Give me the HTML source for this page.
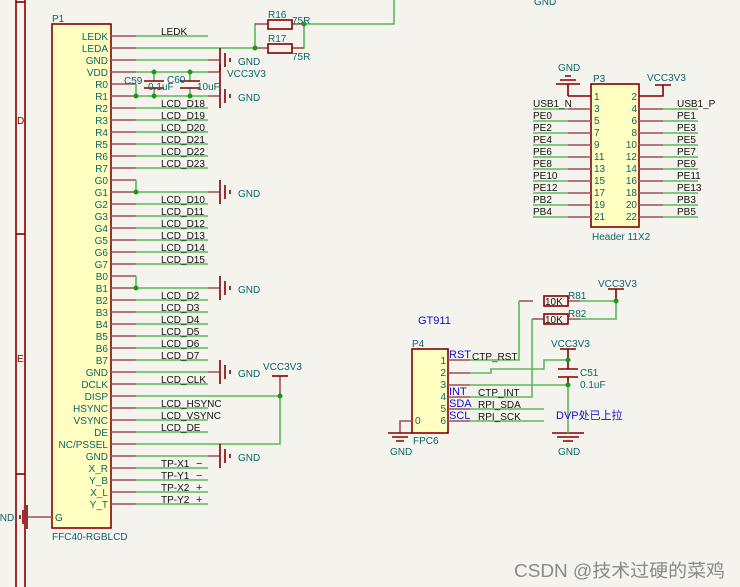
<!DOCTYPE html>
<html><head><meta charset="utf-8"><style>
html,body{margin:0;padding:0;background:#f4f3ee;}
svg{display:block;font-family:"Liberation Sans","Noto Sans CJK SC",sans-serif;}
.t{fill:#0b6565;font-size:10px;}
.k{fill:#111;font-size:10px;}
.b{fill:#1010c8;font-size:11px;}
.r{stroke:#a05050;stroke-width:1.6;fill:none;}
.R{stroke:#840000;stroke-width:1.6;fill:none;}
.g{stroke:#5cb85c;stroke-width:1.6;fill:none;}
.d{fill:#1a9a1a;}
</style></head><body>
<svg width="740" height="587" viewBox="0 0 740 587">
<rect width="740" height="587" fill="#f4f3ee"/>
<g class="R" stroke-width="1.2">
<line x1="16" y1="0" x2="16" y2="587"/><line x1="25" y1="0" x2="25" y2="587"/>
<line x1="16" y1="2" x2="25" y2="2"/><line x1="16" y1="234" x2="25" y2="234"/><line x1="16" y1="474" x2="25" y2="474"/>
</g>
<text x="17" y="124" fill="#840000" font-size="10">D</text>
<text x="17" y="362" fill="#840000" font-size="10">E</text>
<rect x="52" y="24" width="59" height="504" fill="#ffffc2" stroke="#840000" stroke-width="1.6"/>
<text class="t" x="52" y="22">P1</text>
<text class="t" x="52" y="540">FFC40-RGBLCD</text>
<g class="r">
<path d="M111 36H136M111 48H136M111 60H136M111 72H136M111 84H136M111 96H136M111 108H136M111 120H136M111 132H136M111 144H136M111 156H136M111 168H136M111 180H136M111 192H136M111 204H136M111 216H136M111 228H136M111 240H136M111 252H136M111 264H136M111 276H136M111 288H136M111 300H136M111 312H136M111 324H136M111 336H136M111 348H136M111 360H136M111 372H136M111 384H136M111 396H136M111 408H136M111 420H136M111 432H136M111 444H136M111 456H136M111 468H136M111 480H136M111 492H136M111 504H136M28 517H52"/>
</g>
<g class="t" text-anchor="end">
<text x="108" y="40">LEDK</text><text x="108" y="52">LEDA</text><text x="108" y="64">GND</text><text x="108" y="76">VDD</text>
<text x="108" y="88">R0</text><text x="108" y="100">R1</text><text x="108" y="112">R2</text><text x="108" y="124">R3</text><text x="108" y="136">R4</text><text x="108" y="148">R5</text><text x="108" y="160">R6</text><text x="108" y="172">R7</text>
<text x="108" y="184">G0</text><text x="108" y="196">G1</text><text x="108" y="208">G2</text><text x="108" y="220">G3</text><text x="108" y="232">G4</text><text x="108" y="244">G5</text><text x="108" y="256">G6</text><text x="108" y="268">G7</text>
<text x="108" y="280">B0</text><text x="108" y="292">B1</text><text x="108" y="304">B2</text><text x="108" y="316">B3</text><text x="108" y="328">B4</text><text x="108" y="340">B5</text><text x="108" y="352">B6</text><text x="108" y="364">B7</text>
<text x="108" y="376">GND</text><text x="108" y="388">DCLK</text><text x="108" y="400">DISP</text><text x="108" y="412">HSYNC</text><text x="108" y="424">VSYNC</text><text x="108" y="436">DE</text><text x="108" y="448">NC/PSSEL</text><text x="108" y="460">GND</text>
<text x="108" y="472">X_R</text><text x="108" y="484">Y_B</text><text x="108" y="496">X_L</text><text x="108" y="508">Y_T</text>
</g>
<text class="t" x="55" y="521">G</text>
<g class="g">
<path d="M136 36H208M136 48H255M136 60H208M136 72H208M136 84V96H208"/>
<path d="M136 108H208M136 120H208M136 132H208M136 144H208M136 156H208M136 168H208"/>
<path d="M136 180V192H208M136 204H208M136 216H208M136 228H208M136 240H208M136 252H208M136 264H208"/>
<path d="M136 276V288H208M136 300H208M136 312H208M136 324H208M136 336H208M136 348H208M136 360H208"/>
<path d="M136 372H208M136 384H208M136 396H280M136 408H208M136 420H208M136 432H208M136 444H280V396M136 456H208M136 468H208M136 480H208M136 492H208M136 504H208"/>
<path d="M154 72V81M190 72V81M154 88V96M190 88V96"/>
<path d="M255 48V24H256M255 48H256M304 24V48H292M304 24H394V0"/>
</g>
<g class="r"><path d="M255 24H268M255 48H268M292 24H304M292 48H304M280 376V396"/>
<path d="M208 60H219M208 72H219M208 96H219M208 192H219M208 288H219M208 372H219M208 456H219"/></g>
<rect x="268" y="20" width="24" height="9" fill="none" stroke="#840000" stroke-width="1.6"/>
<rect x="268" y="44" width="24" height="9" fill="none" stroke="#840000" stroke-width="1.6"/>
<text class="t" x="268" y="18">R16</text><text class="t" x="292" y="24">75R</text>
<text class="t" x="268" y="42">R17</text><text class="t" x="292" y="60">75R</text>
<g class="R"><path d="M144 81H164M144 88H164M180 81H200M180 88H200"/></g>
<text class="t" x="124" y="84">C59</text><text class="t" x="148" y="90">0.1uF</text>
<text class="t" x="167" y="83">C60</text><text class="t" x="197" y="90">10uF</text>
<g class="R">
<path d="M220 48V72M225 53V67M230 58V62"/>
<path d="M220 64V84"/>
<path d="M220 84V108M225 89V103M230 94V98"/>
<path d="M220 180V204M225 185V199M230 190V194"/>
<path d="M220 276V300M225 281V295M230 286V290"/>
<path d="M220 360V384M225 365V379M230 370V374"/>
<path d="M220 444V468M225 449V463M230 454V458"/>
<path d="M27 505V529M23 510V524M20 515V519"/>
<path d="M272 376H288"/>
</g>
<g class="t"><text x="238" y="65">GND</text><text x="227" y="77">VCC3V3</text><text x="238" y="101">GND</text><text x="238" y="197">GND</text><text x="238" y="293">GND</text><text x="238" y="377">GND</text><text x="238" y="461">GND</text><text x="263" y="370">VCC3V3</text><text x="-8" y="521">GND</text></g>
<g class="k">
<text x="161" y="35">LEDK</text>
<text x="161" y="107">LCD_D18</text><text x="161" y="119">LCD_D19</text><text x="161" y="131">LCD_D20</text><text x="161" y="143">LCD_D21</text><text x="161" y="155">LCD_D22</text><text x="161" y="167">LCD_D23</text>
<text x="161" y="203">LCD_D10</text><text x="161" y="215">LCD_D11</text><text x="161" y="227">LCD_D12</text><text x="161" y="239">LCD_D13</text><text x="161" y="251">LCD_D14</text><text x="161" y="263">LCD_D15</text>
<text x="161" y="299">LCD_D2</text><text x="161" y="311">LCD_D3</text><text x="161" y="323">LCD_D4</text><text x="161" y="335">LCD_D5</text><text x="161" y="347">LCD_D6</text><text x="161" y="359">LCD_D7</text>
<text x="161" y="383">LCD_CLK</text><text x="161" y="407">LCD_HSYNC</text><text x="161" y="419">LCD_VSYNC</text><text x="161" y="431">LCD_DE</text>
<text x="161" y="467">TP-X1</text><text x="161" y="479">TP-Y1</text><text x="161" y="491">TP-X2</text><text x="161" y="503">TP-Y2</text>
</g>
<g class="b"><text x="196" y="467">−</text><text x="196" y="479">−</text><text x="196" y="503">+</text><text x="196" y="491">+</text></g>
<g class="d"><circle cx="255" cy="48" r="2.5"/><circle cx="304" cy="24" r="2.5"/><circle cx="154" cy="72" r="2.5"/><circle cx="190" cy="72" r="2.5"/><circle cx="136" cy="96" r="2.5"/><circle cx="154" cy="96" r="2.5"/><circle cx="190" cy="96" r="2.5"/><circle cx="136" cy="192" r="2.5"/><circle cx="136" cy="288" r="2.5"/><circle cx="280" cy="396" r="2.5"/></g>
<text class="t" x="534" y="5">GND</text>

<rect x="591" y="84" width="48" height="143" fill="#ffffc2" stroke="#840000" stroke-width="1.6"/>
<text class="t" x="593" y="82">P3</text>
<text class="t" x="592" y="240">Header 11X2</text>
<g class="R"><path d="M568 96H591M568 96V84M556 84H580M560 80H576M565 76H571M639 96H663V85M655 85H671"/></g>
<text class="t" x="558" y="71">GND</text><text class="t" x="647" y="81">VCC3V3</text>
<g class="r"><path d="M568 109H591M568 121H591M568 133H591M568 145H591M568 157H591M568 169H591M568 181H591M568 193H591M568 205H591M568 217H591M639 109H663M639 121H663M639 133H663M639 145H663M639 157H663M639 169H663M639 181H663M639 193H663M639 205H663M639 217H663"/></g>
<g class="g"><path d="M533 109H568M533 121H568M533 133H568M533 145H568M533 157H568M533 169H568M533 181H568M533 193H568M533 205H568M533 217H568M663 109H698M663 121H698M663 133H698M663 145H698M663 157H698M663 169H698M663 181H698M663 193H698M663 205H698M663 217H698"/></g>
<g class="t">
<text x="594" y="100">1</text><text x="594" y="112">3</text><text x="594" y="124">5</text><text x="594" y="136">7</text><text x="594" y="148">9</text><text x="594" y="160">11</text><text x="594" y="172">13</text><text x="594" y="184">15</text><text x="594" y="196">17</text><text x="594" y="208">19</text><text x="594" y="220">21</text>
<g text-anchor="end"><text x="637" y="100">2</text><text x="637" y="112">4</text><text x="637" y="124">6</text><text x="637" y="136">8</text><text x="637" y="148">10</text><text x="637" y="160">12</text><text x="637" y="172">14</text><text x="637" y="184">16</text><text x="637" y="196">18</text><text x="637" y="208">20</text><text x="637" y="220">22</text></g>
</g>
<g class="k">
<text x="533" y="107">USB1_N</text><text x="533" y="119">PE0</text><text x="533" y="131">PE2</text><text x="533" y="143">PE4</text><text x="533" y="155">PE6</text><text x="533" y="167">PE8</text><text x="533" y="179">PE10</text><text x="533" y="191">PE12</text><text x="533" y="203">PB2</text><text x="533" y="215">PB4</text>
<text x="677" y="107">USB1_P</text><text x="677" y="119">PE1</text><text x="677" y="131">PE3</text><text x="677" y="143">PE5</text><text x="677" y="155">PE7</text><text x="677" y="167">PE9</text><text x="677" y="179">PE11</text><text x="677" y="191">PE13</text><text x="677" y="203">PB3</text><text x="677" y="215">PB5</text>
</g>

<text class="b" x="418" y="324">GT911</text>
<rect x="412" y="349" width="36" height="84" fill="#ffffc2" stroke="#840000" stroke-width="1.6"/>
<text class="t" x="412" y="347">P4</text><text class="t" x="413" y="444">FPC6</text>
<g class="r"><path d="M448 360H470M448 373H470M448 385H470M448 397H470M448 409H470M448 421H470M412 421H400V433M519 301H533M568 301H580M532 319H544M568 319H580"/></g>
<g class="R"><path d="M388 433H412M392 437H408M396 441H404M552 433H584M557 437H579M563 441H573M568 349V360M560 349H576M558 369H578M558 377H578M568 369V360M568 377V385M616 289V301M608 289H624"/></g>
<g class="g"><path d="M470 360H519V301M470 373H491V369H544V360H568M470 385H568V433M470 397H532V319M470 409H544M470 421H544M580 301H616V319H580"/></g>
<rect x="544" y="296" width="24" height="10" fill="none" stroke="#840000" stroke-width="1.6"/>
<rect x="544" y="314" width="24" height="10" fill="none" stroke="#840000" stroke-width="1.6"/>
<text class="k" x="545" y="305">10K</text><text class="k" x="545" y="323">10K</text>
<text class="t" x="568" y="299">R81</text><text class="t" x="568" y="317">R82</text>
<text class="t" x="598" y="287">VCC3V3</text><text class="t" x="551" y="347">VCC3V3</text>
<text class="t" x="580" y="376">C51</text><text class="t" x="580" y="388">0.1uF</text>
<text class="t" x="390" y="455">GND</text><text class="t" x="558" y="455">GND</text>
<g class="t" text-anchor="end"><text x="446" y="364">1</text><text x="446" y="376">2</text><text x="446" y="388">3</text><text x="446" y="400">4</text><text x="446" y="412">5</text><text x="446" y="424">6</text></g>
<text class="t" x="415" y="424">0</text>
<g class="b"><text x="449" y="358">RST</text><text x="449" y="395">INT</text><text x="449" y="407">SDA</text><text x="449" y="419">SCL</text></g>
<g class="k" font-size="9"><text x="472" y="360">CTP_RST</text><text x="478" y="396">CTP_INT</text><text x="478" y="408">RPI_SDA</text><text x="478" y="420">RPI_SCK</text></g>
<text class="b" x="556" y="419">DVP处已上拉</text>
<g class="d"><circle cx="616" cy="301" r="2.5"/><circle cx="568" cy="360" r="2.5"/><circle cx="568" cy="385" r="2.5"/></g>

<text x="514" y="577" fill="#8a8a8a" font-size="18" textLength="211" lengthAdjust="spacingAndGlyphs">CSDN @技术过硬的菜鸡</text>
</svg>
</body></html>
